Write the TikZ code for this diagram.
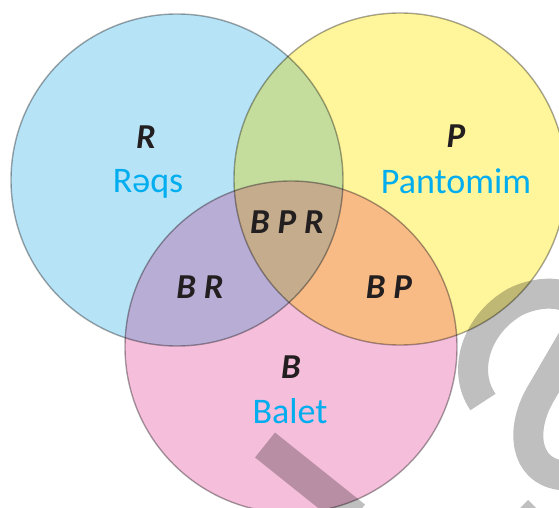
\documentclass[tikz,border=0pt]{standalone}
\usepackage{fontspec}
\setmainfont{Carlito}
\usepackage{tikz}
\usetikzlibrary{calc}

\definecolor{reqsblue}{RGB}{183,227,247}
\definecolor{pantyellow}{RGB}{255,245,155}
\definecolor{baletpink}{RGB}{245,190,218}
\definecolor{rpgreen}{RGB}{196,220,156}
\definecolor{brpurple}{RGB}{184,173,212}
\definecolor{bporange}{RGB}{249,187,133}
\definecolor{bprbrown}{RGB}{196,172,140}
\definecolor{wordcyan}{RGB}{0,174,239}
\definecolor{letterblack}{RGB}{35,31,32}
\definecolor{markgrey}{RGB}{191,191,191}

\tikzset{
	setletter/.style={font=\fontsize{35}{42}\selectfont\bfseries\itshape, text=letterblack, anchor=base},
	setword/.style={font=\fontsize{36}{42}\selectfont, text=wordcyan, anchor=base},
	rim/.style={draw=black, draw opacity=0.35, line width=1.4pt}
}

\begin{document}
\begin{tikzpicture}[x=1pt,y=-1pt]
		\useasboundingbox (0,0) rectangle (559,508);
		\clip (0,0) rectangle (559,508);
		\coordinate (cr) at (177,180);
		\coordinate (cp) at (400,179);
		\coordinate (cb) at (291,347);

		\fill[reqsblue] (cr) circle[radius=166pt];
		\fill[pantyellow] (cp) circle[radius=166pt];
		\fill[baletpink] (cb) circle[radius=166pt];
		\begin{scope}
			\clip (cp) circle[radius=166pt];
			\fill[bporange] (cb) circle[radius=166pt];
		\end{scope}
		\begin{scope}
			\clip (cr) circle[radius=166pt];
			\fill[rpgreen] (cp) circle[radius=166pt];
			\fill[brpurple] (cb) circle[radius=166pt];
			\clip (cp) circle[radius=166pt];
			\fill[bprbrown] (cb) circle[radius=166pt];
		\end{scope}
		\draw[rim] (cr) circle[radius=166pt];
		\draw[rim] (cp) circle[radius=166pt];
		\draw[rim] (cb) circle[radius=166pt];

		\begin{scope}[blend mode=multiply]
			\draw[markgrey, line width=32pt] (265,445) -- (355,517);
			\draw[markgrey, line width=30pt] (483,402) .. controls (462,372) and (475,325) .. (515,302)
				.. controls (555,282) and (600,300) .. (575,335) -- (540,395)
				.. controls (520,430) and (525,470) .. (560,475) -- (600,480);
			\fill[markgrey] (528,500) -- (550,522) -- (528,544) -- (506,522) -- cycle;
		\end{scope}

		\draw (146,148) node[setletter] (rletter) {R};
		\draw (148,192) node[setword] (reqs) {Rəqs};
		\draw (456,147) node[setletter] (pletter) {P};
		\draw (456,193) node[setword] (pantomim) {Pantomim};
		\draw (287,233) node[setletter] (bpr) {B P R};
		\draw (200,298) node[setletter] (br) {B R};
		\draw (389,298) node[setletter] (bp) {B P};
		\draw (291,378) node[setletter] (bletter) {B};
		\draw (290,423) node[setword] (balet) {Balet};
	\end{tikzpicture}
\end{document}
